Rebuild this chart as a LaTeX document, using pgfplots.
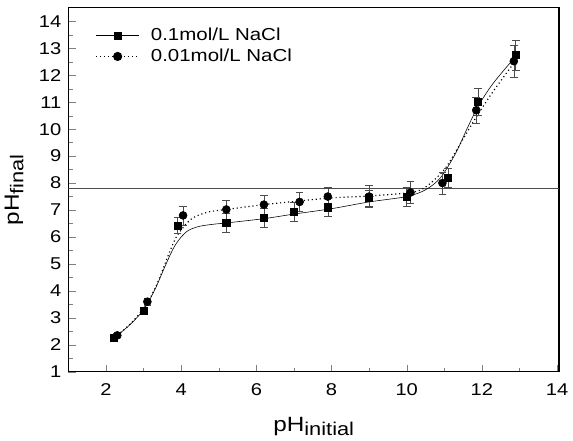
\documentclass[border=0pt]{standalone}
\usepackage{fontspec}
\setmainfont{Liberation Sans}[FakeStretch=1.18]
\usepackage{pgfplots}
\pgfplotsset{compat=1.18}
\begin{document}
\begin{tikzpicture}
\begin{axis}[
  name=main,
  scale only axis,
  width=345pt, height=256pt,
  xmin=1, xmax=14.05, ymin=1, ymax=14.5,
  xtick={2,4,...,14}, ytick={1,2,...,14},
  minor x tick num=1, minor y tick num=1,
  tick align=inside, xtick pos=bottom, ytick pos=left,
  major tick length=5pt, minor tick length=3pt,
  /pgf/number format/assume math mode=true,
  tick label style={font=\fontsize{12}{14}\selectfont},
  xticklabel style={yshift=-5pt},
  yticklabel style={xshift=-1.5pt},
  label style={font=\fontsize{14.5}{16}\selectfont},
  xlabel={pH\raisebox{-0.4ex}{\fontsize{13}{15}\selectfont initial}},
  ylabel={pH\raisebox{-0.4ex}{\fontsize{13}{15}\selectfont final}},
  xlabel style={yshift=-8pt},
  ylabel style={yshift=4pt},
  legend style={draw=none, fill=none, at={(0,1)}, anchor=north west, xshift=16pt, yshift=-10pt,
    font=\fontsize{12.2}{15}\selectfont, row sep=0.5pt},
  legend cell align=left,
  legend image code/.code={\draw[mark repeat=2, mark phase=2, #1] plot coordinates {(0pt,0pt) (15pt,0pt) (30pt,0pt)}; \path (36pt,0pt);},
  axis line style={line width=0.9pt},
]
\addlegendimage{black, solid, mark=square*, mark size=2.5pt}
\addlegendentry{0.1mol/L NaCl}
\addlegendimage{black, dotted, thick, mark=*, mark size=2.8pt, mark options={solid}}
\addlegendentry{0.01mol/L NaCl}

% reference line
\addplot[forget plot, gray!60!black, line width=0.9pt] coordinates {(1,7.8) (14.05,7.8)};

% fit curves
\addplot[forget plot, black, solid, smooth] coordinates {
(2.2,2.25) (2.6,2.7) (3.0,3.3) (3.3,4.05) (3.55,4.85) (3.8,5.6) (4.0,6.0) (4.2,6.25) (4.5,6.4) (4.9,6.48) (5.2,6.52) (6.2,6.68) (7.0,6.85) (8.0,7.05) (9.0,7.3) (10.0,7.5) (10.5,7.75) (10.9,8.2) (11.3,9.1) (11.6,10.0) (11.9,10.85) (12.3,11.7) (12.9,12.7)};
\addplot[forget plot, black, dotted, thick, smooth] coordinates {
(2.3,2.35) (2.7,2.85) (3.1,3.55) (3.4,4.4) (3.65,5.3) (3.85,5.95) (4.05,6.35) (4.3,6.7) (4.7,6.92) (5.2,7.02) (6.2,7.2) (7.1,7.33) (8.0,7.45) (9.0,7.52) (10.1,7.65) (10.5,7.85) (11.0,8.5) (11.4,9.4) (11.85,10.45) (12.3,11.4) (12.85,12.45)};

% data 0.1 mol/L
\addplot[forget plot, only marks, mark=square*, mark size=2.5pt, black,
  error bars/.cd, y dir=both, y explicit, error mark options={rotate=90, mark size=2.7pt, gray!60!black},
  error bar style={gray!60!black}]
  table[x=x, y=y, y error=e] {
x y e
2.2 2.25 0.08
3.0 3.25 0.12
3.9 6.42 0.3
5.2 6.52 0.35
6.2 6.7 0.35
7.0 6.95 0.35
7.9 7.1 0.35
9.0 7.45 0.3
10.0 7.5 0.35
11.1 8.2 0.35
11.9 11.0 0.5
12.9 12.75 0.55
};
% data 0.01 mol/L
\addplot[forget plot, only marks, mark=*, mark size=2.8pt, black,
  error bars/.cd, y dir=both, y explicit, error mark options={rotate=90, mark size=2.7pt, gray!60!black},
  error bar style={gray!60!black}]
  table[x=x, y=y, y error=e] {
x y e
2.3 2.35 0.08
3.1 3.6 0.12
4.05 6.8 0.35
5.2 7.02 0.35
6.2 7.2 0.35
7.15 7.3 0.35
7.9 7.5 0.35
9.0 7.5 0.4
10.1 7.65 0.4
10.95 8.0 0.4
11.85 10.7 0.5
12.85 12.52 0.6
};
\end{axis}
\path ([yshift=5.5pt]main.north);
\end{tikzpicture}
\end{document}
